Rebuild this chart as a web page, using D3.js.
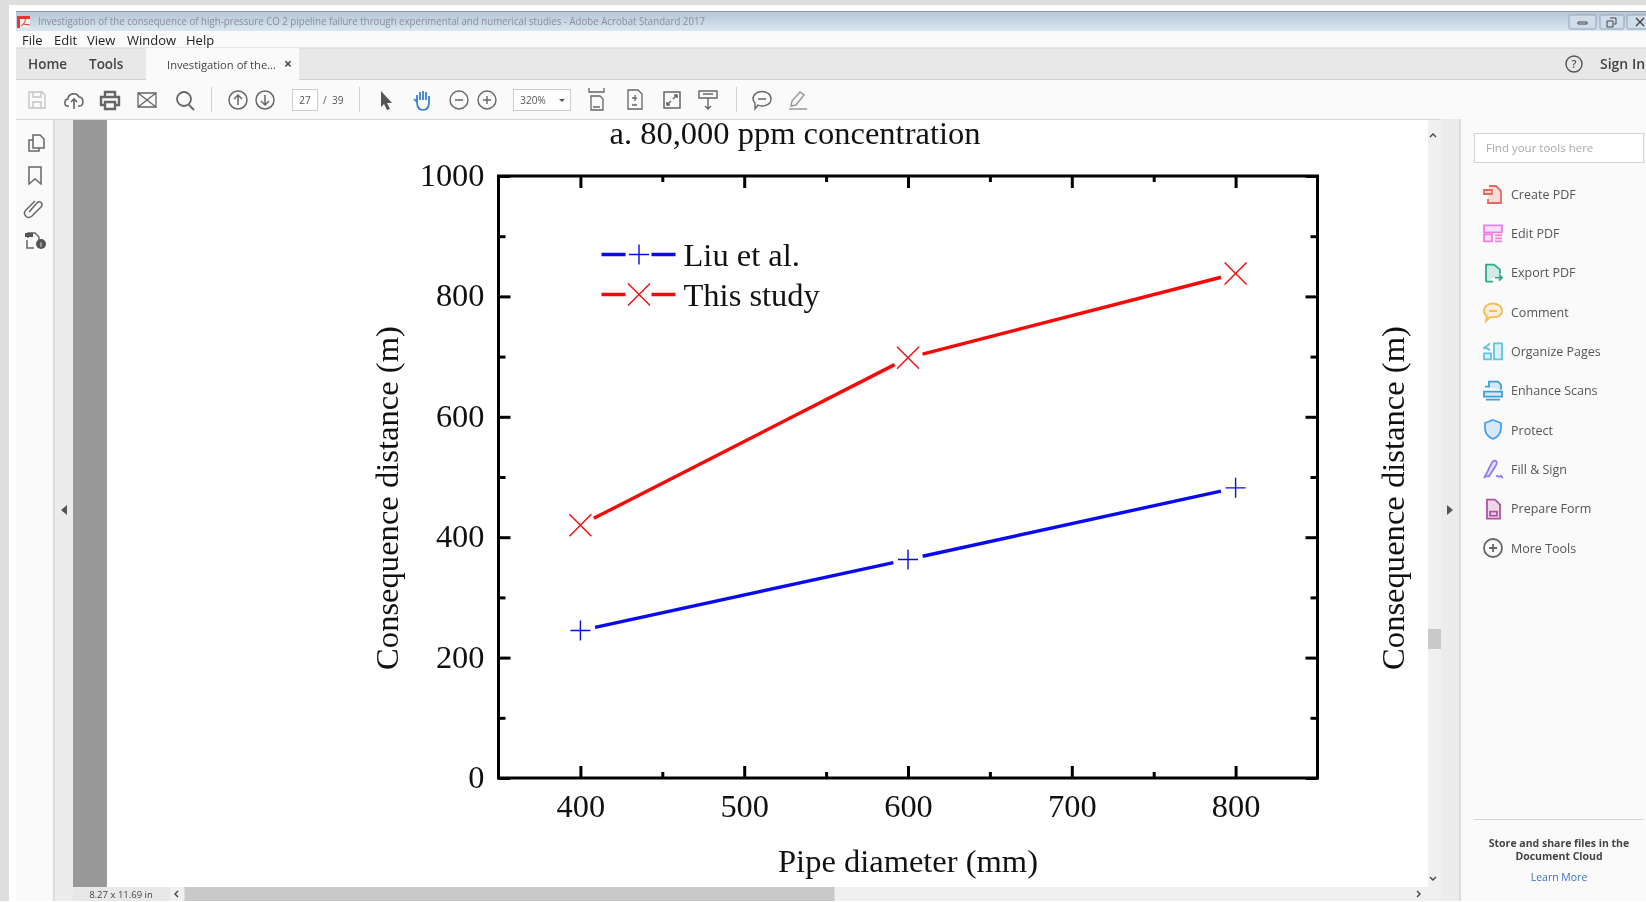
<!DOCTYPE html>
<html>
<head>
<meta charset="utf-8">
<title>Consequence distance chart</title>
<script src="https://cdn.jsdelivr.net/npm/d3@7"></script>
<style>
  html, body { margin: 0; padding: 0; background: #fff; overflow: hidden; }
  svg { display: block; filter: blur(0.4px); }
  .ui { font-family: "Open Sans", "Noto Sans", sans-serif; }
  .plot text { font-family: "Liberation Serif", serif; fill: #111; }
</style>
</head>
<body>
<div id="chart"></div>
<script>
// Chart data
const pipeDiameters = [400, 600, 800];
const liuValues = [245, 363, 482];
const studyValues = [420, 698, 838];
const seriesNames = ["Liu et al.", "This study"];
const xMajorTicks = [400, 500, 600, 700, 800];
const xMinorTicks = [450, 550, 650, 750];
const yMajorTicks = [0, 200, 400, 600, 800, 1000];
const yMinorTicks = [100, 300, 500, 700, 900];
const chartTitle = "a. 80,000 ppm concentration";
const xTitle = "Pipe diameter (mm)";
const yTitle = "Consequence distance (m)";

// Acrobat window text
const windowTitle = "Investigation of the consequence of high-pressure CO 2 pipeline failure through experimental and numerical studies - Adobe Acrobat Standard 2017";
const menuItems = ["File", "Edit", "View", "Window", "Help"];
const menuX = [22, 54, 87, 127, 186];
const toolNames = ["Create PDF", "Edit PDF", "Export PDF", "Comment", "Organize Pages", "Enhance Scans", "Protect", "Fill & Sign", "Prepare Form", "More Tools"];
const toolColors = ["#e8695c", "#ee7fe0", "#2fa98c", "#f3bd4f", "#5cc6de", "#3d9fd8", "#4a9fe6", "#8f7cf2", "#b3509f", "#666"];

const W = 1646, H = 902;
const svg = d3.select("#chart").append("svg").attr("width", W).attr("height", H);

function rect(parent, x, y, w, h, fill) {
    return parent.append("rect").attr("x", x).attr("y", y).attr("width", w).attr("height", h).attr("fill", fill);
}
function label(parent, x, y, str, size, fill, anchor) {
    return parent.append("text").attr("x", x).attr("y", y).attr("font-size", size).attr("fill", fill)
        .attr("text-anchor", anchor || "start").text(str);
}
function icon(parent, x, y, d, color, width) {
    return parent.append("path").attr("transform", `translate(${x},${y})`).attr("d", d)
        .attr("fill", "none").attr("stroke", color).attr("stroke-width", width || 1.6);
}

// Page panel behind the chart
rect(svg, 0, 0, W, H, "#fff");

// --- 1. The chart itself ---
const margin = { top: 176, right: 328.5, bottom: 124, left: 498.5 };
const width = W - margin.left - margin.right;
const height = H - margin.top - margin.bottom;
const plot = svg.append("g").attr("class", "plot").attr("transform", `translate(${margin.left},${margin.top})`);

const x = d3.scaleLinear().domain([350, 850]).range([0, width]);
const y = d3.scaleLinear().domain([0, 1000]).range([height, 0]);

function drawAxis(axis, translate, ticks, size, showLabels) {
    const g = plot.append("g").attr("transform", translate)
        .call(axis.tickValues(ticks).tickSizeInner(size).tickSizeOuter(0).tickFormat(showLabels ? d3.format("d") : ""));
    g.select(".domain").remove();
    g.selectAll("line").attr("stroke", "#000").attr("stroke-width", 3);
    return g;
}

// major and minor ticks on all four sides, pointing inward
drawAxis(d3.axisBottom(x), `translate(0,${height})`, xMinorTicks, -6, false);
drawAxis(d3.axisTop(x), "translate(0,0)", xMinorTicks, -6, false);
drawAxis(d3.axisLeft(y), "translate(0,0)", yMinorTicks, -7, false);
drawAxis(d3.axisRight(y), `translate(${width},0)`, yMinorTicks, -7, false);
drawAxis(d3.axisTop(x), "translate(0,0)", xMajorTicks, -12, false);
drawAxis(d3.axisRight(y), `translate(${width},0)`, yMajorTicks, -12, false);

const xAxis = drawAxis(d3.axisBottom(x), `translate(0,${height})`, xMajorTicks, -12, true);
xAxis.selectAll("text").attr("y", 0).attr("dy", 0).attr("transform", "translate(0,39)")
    .attr("font-size", 32.4).attr("font-family", "Liberation Serif").attr("fill", "#111");
const yAxis = drawAxis(d3.axisLeft(y), "translate(0,0)", yMajorTicks, -12, true);
yAxis.selectAll("text").attr("x", -14).attr("dy", "0.29em")
    .attr("font-size", 32.4).attr("font-family", "Liberation Serif").attr("fill", "#111");

plot.append("rect").attr("width", width).attr("height", height)
    .attr("fill", "none").attr("stroke", "#000").attr("stroke-width", 3);

const plusPath = "M-10,0H10M0,-10V10";
const crossPath = "M-11,-11L11,11M-11,11L11,-11";
const markerGap = 15;

function drawSeries(values, color, marker) {
    const pts = pipeDiameters.map((d, i) => [x(d), y(values[i])]);
    // line stops short of each marker, like the Origin plot does
    d3.pairs(pts).forEach(([a, b]) => {
        const len = Math.hypot(b[0] - a[0], b[1] - a[1]);
        const ux = (b[0] - a[0]) / len, uy = (b[1] - a[1]) / len;
        const seg = [[a[0] + ux * markerGap, a[1] + uy * markerGap], [b[0] - ux * markerGap, b[1] - uy * markerGap]];
        plot.append("path").attr("d", d3.line()(seg)).attr("fill", "none").attr("stroke", color).attr("stroke-width", 3.4);
    });
    plot.selectAll(null).data(pts).enter().append("path")
        .attr("transform", d => `translate(${d[0]},${d[1]})`)
        .attr("d", marker).attr("fill", "none").attr("stroke", color).attr("stroke-width", 1.4);
}
drawSeries(liuValues, "#0a0af0", plusPath);
drawSeries(studyValues, "#f50a0a", crossPath);

// Legend
[[seriesNames[0], "#0a0af0", plusPath, 78.5], [seriesNames[1], "#f50a0a", crossPath, 118.5]].forEach(([name, color, marker, ly]) => {
    plot.append("path").attr("d", `M103,${ly}h24M153,${ly}h24`).attr("stroke", color).attr("stroke-width", 3.4).attr("fill", "none");
    plot.append("path").attr("transform", `translate(140.5,${ly})`).attr("d", marker).attr("stroke", color).attr("stroke-width", 1.4).attr("fill", "none");
    plot.append("text").attr("x", 185).attr("y", ly + 11.5).attr("font-size", 32.5).text(name);
});

// Titles
plot.append("text").attr("x", width / 2).attr("y", 696).attr("text-anchor", "middle").attr("font-size", 32.5).text(xTitle);
plot.append("text").attr("x", width / 2 - 113).attr("y", -32).attr("text-anchor", "middle").attr("font-size", 32.5).text(chartTitle);
[-100.5, 905].forEach(tx => {
    plot.append("text").attr("transform", `translate(${tx},${height / 2 + 21}) rotate(-90)`)
        .attr("text-anchor", "middle").attr("font-size", 32.6).text(yTitle);
});

// --- 2. Acrobat window around it ---
const ui = svg.append("g").attr("class", "ui");

// top grey and title bar
rect(ui, 0, 0, W, 5, "#dedede");
rect(ui, 9, 5, W, 7, "#fff");
rect(ui, 16, 11, W, 1.5, "#8b98a3");
const grad = svg.append("defs").append("linearGradient").attr("id", "titleGrad").attr("x1", 0).attr("x2", 0).attr("y1", 0).attr("y2", 1);
grad.append("stop").attr("offset", 0).attr("stop-color", "#b6c7d8");
grad.append("stop").attr("offset", 1).attr("stop-color", "#dbe7f3");
rect(ui, 16, 12.5, W, 19, "url(#titleGrad)");
rect(ui, 16, 31, W, 17, "#fafafa");
rect(ui, 16, 48, W, 32, "#e8e8e8");
rect(ui, 16, 47.5, W, 1, "#d6d6d6");
rect(ui, 16, 79, W, 1, "#d0d0d0");
rect(ui, 146, 48, 153, 32, "#fafafa");
rect(ui, 16, 80, W, 39, "#fafafa");
rect(ui, 16, 119, W, 1, "#d8d8d8");

// left strips
rect(ui, 0, 0, 9, H, "#dedede");
rect(ui, 9, 5, 7, H, "#fff");
rect(ui, 16, 120, 38, H - 120, "#fafafa");
rect(ui, 53, 120, 2, H - 120, "#dcdcdc");
rect(ui, 55, 120, 18, H - 120, "#ececec");
rect(ui, 73, 120, 34, 767, "#999");

// scrollbars and right strips
rect(ui, 73, 887, 1368, 14, "#f0f0f0");
rect(ui, 73, 887, 97, 14, "#e8e8e8");
rect(ui, 184.5, 887, 650, 14, "#c9c9c9");
rect(ui, 1428, 120, 13, H - 120, "#f0f0f0");
rect(ui, 1428, 629, 13, 20, "#c9c9c9");
rect(ui, 1441, 119, 19, H - 119, "#ececec");
rect(ui, 1459, 119, 2, H - 119, "#dcdcdc");
rect(ui, 1461, 119, W - 1461, H - 119, "#fafafa");
rect(ui, 0, 901, W, 1, "#fff");

label(ui, 38, 25, windowTitle, 10.5, "#8a8f96").attr("textLength", 667).attr("lengthAdjust", "spacingAndGlyphs");
ui.append("rect").attr("x", 17).attr("y", 16).attr("width", 13).attr("height", 12).attr("fill", "#e33");
ui.append("rect").attr("x", 20).attr("y", 19).attr("width", 10).attr("height", 9).attr("fill", "#eee");
icon(ui, 17, 16, "M4,10c3,-2 5,-5 4,-8M6,8l7,1", "#d33", 1);

ui.selectAll(".menu").data(menuItems).enter().append("text").attr("class", "menu")
    .attr("x", (d, i) => menuX[i]).attr("y", 45).attr("font-size", 13).attr("fill", "#222").text(d => d);

label(ui, 28, 69, "Home", 13.5, "#444").attr("font-weight", 600);
label(ui, 89, 69, "Tools", 13.5, "#444").attr("font-weight", 600);
label(ui, 167, 69, "Investigation of the...", 11.5, "#444").attr("textLength", 109).attr("lengthAdjust", "spacingAndGlyphs");
label(ui, 288, 69, "×", 14, "#444", "middle").attr("font-weight", 700);

// help + sign in
ui.append("circle").attr("cx", 1574).attr("cy", 64).attr("r", 8).attr("fill", "none").attr("stroke", "#555").attr("stroke-width", 1.4);
label(ui, 1574, 68, "?", 11, "#555", "middle").attr("font-weight", 600);
label(ui, 1600, 69, "Sign In", 14, "#444").attr("font-weight", 600);

// window buttons
[[1569, 27], [1600, 24], [1627, 25]].forEach(([bx, bw]) => {
    ui.append("rect").attr("x", bx).attr("y", 15).attr("width", bw).attr("height", 14)
        .attr("fill", "#cfdce9").attr("stroke", "#92a4b6").attr("rx", 1);
});
icon(ui, 1578, 22, "M0,0h9v2h-9z", "#444", 1);
icon(ui, 1607, 18, "M3,0h6v6h-2M0,3h6v6h-6z", "#444", 1);
icon(ui, 1636, 18, "M0,0l8,8M0,8l8,-8", "#444", 1.4);

// toolbar icons
const tb = "#666";
icon(ui, 37, 100, "M-8,-8h13l3,3v13h-16zM-4,-8v5h8v-5M-4,8v-6h8v6", "#c4c4c4", 1.4);
icon(ui, 74, 100, "M-5,6h-2c-3,0 -3,-7 1,-7c0,-6 9,-7 11,-2c5,0 5,9 1,9h-2M0,9v-10M-3,2l3,-3l3,3", tb, 1.6);
icon(ui, 110, 100, "M-5,-3v-5h10v5M-5,5h-4v-8h18v8h-4M-5,2h10v7h-10z", tb, 2.4);
icon(ui, 147, 100, "M-9,-7h18v14h-18zM-9,-7l18,14M9,-7l-18,14", tb, 1.3);
icon(ui, 184, 100, "M5,5l5,5M7,-1a7,7 0 1,1 -14,0a7,7 0 1,1 14,0", tb, 1.8);
[211, 359, 736].forEach(sx => rect(ui, sx, 87, 1, 25, "#d0d0d0"));
icon(ui, 238, 100, "M9,0a9,9 0 1,1 -18,0a9,9 0 1,1 18,0M0,5v-10M-4,-1l4,-4l4,4", tb, 1.5);
icon(ui, 265, 100, "M9,0a9,9 0 1,1 -18,0a9,9 0 1,1 18,0M0,-5v10M-4,1l4,4l4,-4", tb, 1.5);
ui.append("rect").attr("x", 292.5).attr("y", 89.5).attr("width", 25).attr("height", 21).attr("fill", "#fff").attr("stroke", "#ccc");
label(ui, 305, 104, "27", 10, "#555", "middle");
label(ui, 323, 104, "/", 10, "#555");
label(ui, 332, 104, "39", 10, "#555");
ui.append("path").attr("transform", "translate(386,100)").attr("d", "M-5,-9L6,3L1,3L4,9L1,10L-2,4L-5,7Z").attr("fill", "#555");
icon(ui, 423, 100, "M-6,2v-7M-3,0v-8M0,0v-9M3,0v-8M6,2v-6M-6,2c0,6 2,8 6,8s6,-2 6,-8M-6,2l-3,-3", "#2c78d4", 1.7);
icon(ui, 459, 100, "M9,0a9,9 0 1,1 -18,0a9,9 0 1,1 18,0M-4,0h8", tb, 1.4);
icon(ui, 487, 100, "M9,0a9,9 0 1,1 -18,0a9,9 0 1,1 18,0M-4,0h8M0,-4v8", tb, 1.4);
ui.append("rect").attr("x", 513.5).attr("y", 89.5).attr("width", 57).attr("height", 21).attr("fill", "#fff").attr("stroke", "#ccc");
label(ui, 533, 104, "320%", 10, "#555", "middle");
ui.append("path").attr("transform", "translate(562,100)").attr("d", "M-3,-1h6l-3,3z").attr("fill", "#555");
icon(ui, 597, 100, "M-8,-12v4h15v-4M-6,-4h9l3,3v11h-12zM-4,7h7", tb, 1.3);
icon(ui, 635, 100, "M-7,-10h10l4,4v15h-14zM-3,-2h5M0,-5v6M-3,5h5", tb, 1.3);
icon(ui, 672, 100, "M-8,-8h16v16h-16zM-5,5l4,-4M1,-1l4,-4M2,-5h3v3M-5,2v3h3", tb, 1.5);
icon(ui, 708, 100, "M-9,-9h18v7h-18zM-5,-6h10M0,-2v11M-3,6l3,3l3,-3", tb, 1.4);
icon(ui, 762, 100, "M-9,-1c0,-10 18,-10 18,0c0,7 -10,8 -13,6l-3,4v-6c-1,-1 -2,-2 -2,-4M-4,-1h8", tb, 1.4);
icon(ui, 798, 100, "M-7,6l1,-5l8,-9l4,3l-8,10zM-9,9h18", "#999", 1.5);

// left panel icons
icon(ui, 36, 143, "M-3,-8h7l4,4v9h-11zM-3,-3h-4v11h10v-3", "#666", 1.5);
icon(ui, 35, 176, "M-6,-9h12v17l-6,-5l-6,5z", "#666", 1.5);
icon(ui, 35, 206, "M-6,6l8,-9c3,-3 7,1 4,4l-9,9c-5,4 -10,-2 -6,-6l9,-9", "#666", 1.5);
icon(ui, 34, 240, "M-6,-2v-5h7l4,4v3M-7,0v8h7", "#666", 1.5);
ui.append("rect").attr("x", 25).attr("y", 233).attr("width", 8).attr("height", 4).attr("fill", "#555");
ui.append("circle").attr("cx", 41).attr("cy", 244).attr("r", 5).attr("fill", "#555");
label(ui, 41, 247, "i", 8, "#fff", "middle");

// collapse arrows and scroll arrows
ui.append("path").attr("transform", "translate(64,510)").attr("d", "M3,-5v10l-6,-5z").attr("fill", "#555");
ui.append("path").attr("transform", "translate(1450,510)").attr("d", "M-3,-5v10l6,-5z").attr("fill", "#555");
icon(ui, 1433, 135, "M-3,2l3,-3l3,3", "#444", 1.4);
icon(ui, 1433, 879, "M-3,-2l3,3l3,-3", "#444", 1.4);
icon(ui, 176, 894, "M2,-3l-3,3l3,3", "#444", 1.4);
icon(ui, 1419, 894, "M-2,-3l3,3l-3,3", "#444", 1.4);

label(ui, 121, 898, "8.27 x 11.69 in", 9.5, "#444", "middle");

// right tool pane
ui.append("rect").attr("x", 1474.5).attr("y", 133.5).attr("width", 169).attr("height", 29).attr("fill", "#fff").attr("stroke", "#d4d4d4");
label(ui, 1486, 152, "Find your tools here", 11.5, "#aaa");

const toolY = d3.scalePoint().domain(toolNames).range([194, 548]);
ui.selectAll(".tool").data(toolNames).enter().append("text").attr("class", "tool")
    .attr("x", 1511).attr("y", d => toolY(d) + 4.5).attr("font-size", 12.5).attr("fill", "#555").text(d => d);

const toolIcons = [
    "M-4,-8h7l5,5v12h-13v-4M-9,-4h8v4h-8z",
    "M-9,-8h18v7h-18zM-9,1h8v7h-8zM2,2h7M2,5h7M2,8h7",
    "M-7,9v-17h8l6,5v4M-7,9h7M2,5h7M6,2l3,3l-3,3",
    "M-9,-1c0,-10 18,-10 18,0c0,6 -8,7 -12,6l-4,4l1,-5c-2,-1 -3,-3 -3,-5M-4,-1h8",
    "M1,-8h8v16h-8zM-9,-2v-2M-9,2h7v6h-7zM-3,-8l-5,4l5,3",
    "M-8,-4h4v-5h9l3,3v5M-9,1h18v5h-18zM-7,9h14",
    "M0,-10l8,3v5c0,6 -3,9 -8,11c-5,-2 -8,-5 -8,-11v-5z",
    "M-9,9c3,-5 6,-13 9,-17c3,-2 5,1 3,4l-7,11h-5M3,7c2,-2 2,2 4,0s1,2 3,1",
    "M-6,-9h8l5,5v14h-13zM-3,3h7v4h-7z",
    "M9,0a9,9 0 1,1 -18,0a9,9 0 1,1 18,0M-4,0h8M0,-4v8"
];
toolIcons.forEach((d, i) => {
    icon(ui, 1493, toolY(toolNames[i]), d, toolColors[i], 1.8)
        .attr("fill", i === 9 ? "none" : toolColors[i]).attr("fill-opacity", 0.2);
});

rect(ui, 1474, 819, 170, 1, "#d4d4d4");
label(ui, 1559, 847, "Store and share files in the", 10.5, "#444", "middle").attr("font-weight", 700);
label(ui, 1559, 860, "Document Cloud", 10.5, "#444", "middle").attr("font-weight", 700);
label(ui, 1559, 881, "Learn More", 10.5, "#3a6fc4", "middle");
</script>
</body>
</html>
